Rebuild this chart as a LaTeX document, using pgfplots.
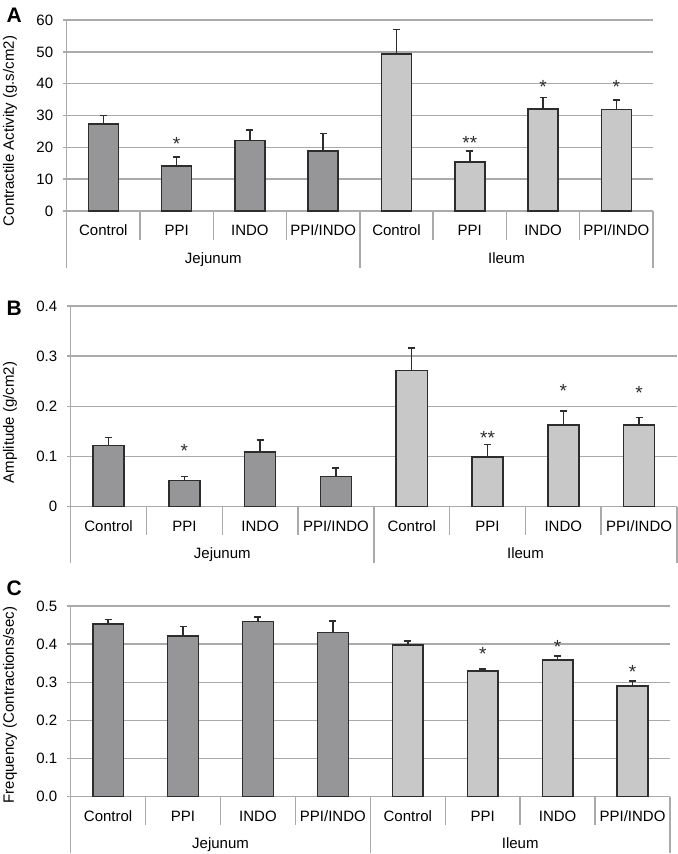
\documentclass[border=0pt]{standalone}
\usepackage{fontspec}
\setmainfont{Liberation Sans}
\usepackage{pgfplots}
\pgfplotsset{compat=1.18}
\definecolor{darkbar}{RGB}{150,150,152}
\definecolor{lightbar}{RGB}{200,200,201}
\definecolor{edge}{RGB}{45,45,45}
\definecolor{gridgray}{RGB}{170,170,170}
\newcommand{\lf}{\fontsize{15bp}{18bp}\selectfont}
\tikzset{sep/.style={draw=gridgray, line width=1.5bp}}
\pgfplotsset{
  panel/.style={
    scale only axis, anchor=south west,
    xmin=-0.5, xmax=7.5, ymin=0,
    axis lines=left, axis line style={-, draw=gridgray, line width=1.5bp},
    ymajorgrids, grid style={draw=gridgray, line width=1.5bp},
    xtick={0,...,7},
    xticklabels={Control,PPI,INDO,PPI/INDO,Control,PPI,INDO,PPI/INDO},
    xtick style={draw=none}, ytick style={draw=gridgray, line width=1.5bp},
    tick align=outside, major tick length=4bp,
    xticklabel style={anchor=base, yshift=-20.4bp},
    yticklabel style={xshift=-6bp},
    tick label style={font=\lf},
    /pgf/number format/assume math mode=true,
    clip=false,
  },
  barstyle/.style={ybar, bar width=0.41, bar shift=0pt, draw=edge, line width=1.5bp,
    error bars/y dir=plus, error bars/y explicit,
    error bars/error bar style={draw=edge, line width=1.5bp},
    error bars/error mark options={rotate=90, draw=edge, mark size=3.5bp, line width=1.5bp}},
  stars/.style={draw=none, mark=none, nodes near coords, point meta=explicit symbolic,
    nodes near coords style={anchor=center, inner sep=0pt, yshift=-4bp, font=\fontsize{19bp}{22bp}\selectfont, text=edge}},
}
\newcommand{\cats}[2]{%
  \draw[sep] (axis cs:0.5,0) -- ([yshift=-#1]axis cs:0.5,0);
  \draw[sep] (axis cs:1.5,0) -- ([yshift=-#1]axis cs:1.5,0);
  \draw[sep] (axis cs:2.5,0) -- ([yshift=-#1]axis cs:2.5,0);
  \draw[sep] (axis cs:4.5,0) -- ([yshift=-#1]axis cs:4.5,0);
  \draw[sep] (axis cs:5.5,0) -- ([yshift=-#1]axis cs:5.5,0);
  \draw[sep] (axis cs:6.5,0) -- ([yshift=-#1]axis cs:6.5,0);
  \draw[sep] (axis cs:-0.5,0) -- ([yshift=-#2]axis cs:-0.5,0);
  \draw[sep] (axis cs:3.5,0) -- ([yshift=-#2]axis cs:3.5,0);
  \draw[sep] (axis cs:7.5,0) -- ([yshift=-#2]axis cs:7.5,0);
}
\begin{document}
\begin{tikzpicture}
\useasboundingbox (0,0) rectangle (678bp,-854bp);
% ---------------- Panel A
\node[anchor=base west, font=\fontsize{21bp}{24bp}\selectfont\bfseries] at (3bp,-22bp) {A};
\node[rotate=90, font=\lf] at (10bp,-131bp) {Contractile Activity (g.s/cm2)};
\begin{axis}[panel, at={(66.7bp,-211bp)}, width=586.3bp, height=191bp,
  ymax=60, ytick={0,10,20,30,40,50,60}]
\addplot[barstyle, fill=darkbar] coordinates {
 (0,27.4) +- (0,2.6)
 (1,14.2) +- (0,2.8)
 (2,22.1) +- (0,3.4)
 (3,18.9) +- (0,5.4)};
\addplot[barstyle, fill=lightbar] coordinates {
 (4,49.3) +- (0,7.7)
 (5,15.4) +- (0,3.5)
 (6,32.1) +- (0,3.5)
 (7,31.9) +- (0,3.0)};
\addplot[stars] coordinates {(1,22.3) [*] (5,22.6) [**] (6,40.3) [*] (7,40.3) [*]};
\cats{29bp}{57bp}
\node[anchor=base, font=\lf] at ([yshift=-52.4bp]axis cs:1.5,0) {Jejunum};
\node[anchor=base, font=\lf] at ([yshift=-52.4bp]axis cs:5.5,0) {Ileum};
\end{axis}
% ---------------- Panel B
\node[anchor=base west, font=\fontsize{21bp}{24bp}\selectfont\bfseries] at (3bp,-315bp) {B};
\node[rotate=90, font=\lf] at (10bp,-422.5bp) {Amplitude (g/cm2)};
\begin{axis}[panel, at={(70.7bp,-506.7bp)}, width=606.3bp, height=200.7bp,
  ymax=0.4, ytick={0,0.1,0.2,0.3,0.4}]
\addplot[barstyle, fill=darkbar] coordinates {
 (0,0.122) +- (0,0.016)
 (1,0.052) +- (0,0.008)
 (2,0.109) +- (0,0.024)
 (3,0.060) +- (0,0.017)};
\addplot[barstyle, fill=lightbar] coordinates {
 (4,0.271) +- (0,0.045)
 (5,0.099) +- (0,0.025)
 (6,0.163) +- (0,0.028)
 (7,0.163) +- (0,0.015)};
\addplot[stars] coordinates {(1,0.120) [*] (5,0.145) [**] (6,0.239) [*] (7,0.235) [*]};
\cats{28.3bp}{56bp}
\node[anchor=base, font=\lf] at ([yshift=-51.7bp]axis cs:1.5,0) {Jejunum};
\node[anchor=base, font=\lf] at ([yshift=-51.7bp]axis cs:5.5,0) {Ileum};
\end{axis}
% ---------------- Panel C
\node[anchor=base west, font=\fontsize{21bp}{24bp}\selectfont\bfseries] at (3bp,-595bp) {C};
\node[rotate=90, font=\lf] at (10bp,-705bp) {Frequency (Contractions/sec)};
\begin{axis}[panel, at={(70.7bp,-796.7bp)}, width=599.3bp, height=190.7bp,
  ymax=0.5, ytick={0,0.1,0.2,0.3,0.4,0.5},
  yticklabel style={/pgf/number format/.cd, fixed, fixed zerofill, precision=1}]
\addplot[barstyle, fill=darkbar] coordinates {
 (0,0.453) +- (0,0.012)
 (1,0.421) +- (0,0.025)
 (2,0.459) +- (0,0.012)
 (3,0.430) +- (0,0.031)};
\addplot[barstyle, fill=lightbar] coordinates {
 (4,0.398) +- (0,0.010)
 (5,0.330) +- (0,0.005)
 (6,0.359) +- (0,0.010)
 (7,0.290) +- (0,0.013)};
\addplot[stars] coordinates {(5,0.385) [*] (6,0.404) [*] (7,0.337) [*]};
\cats{28.3bp}{56bp}
\node[anchor=base, font=\lf] at ([yshift=-51.7bp]axis cs:1.5,0) {Jejunum};
\node[anchor=base, font=\lf] at ([yshift=-51.7bp]axis cs:5.5,0) {Ileum};
\end{axis}
\end{tikzpicture}
\end{document}
